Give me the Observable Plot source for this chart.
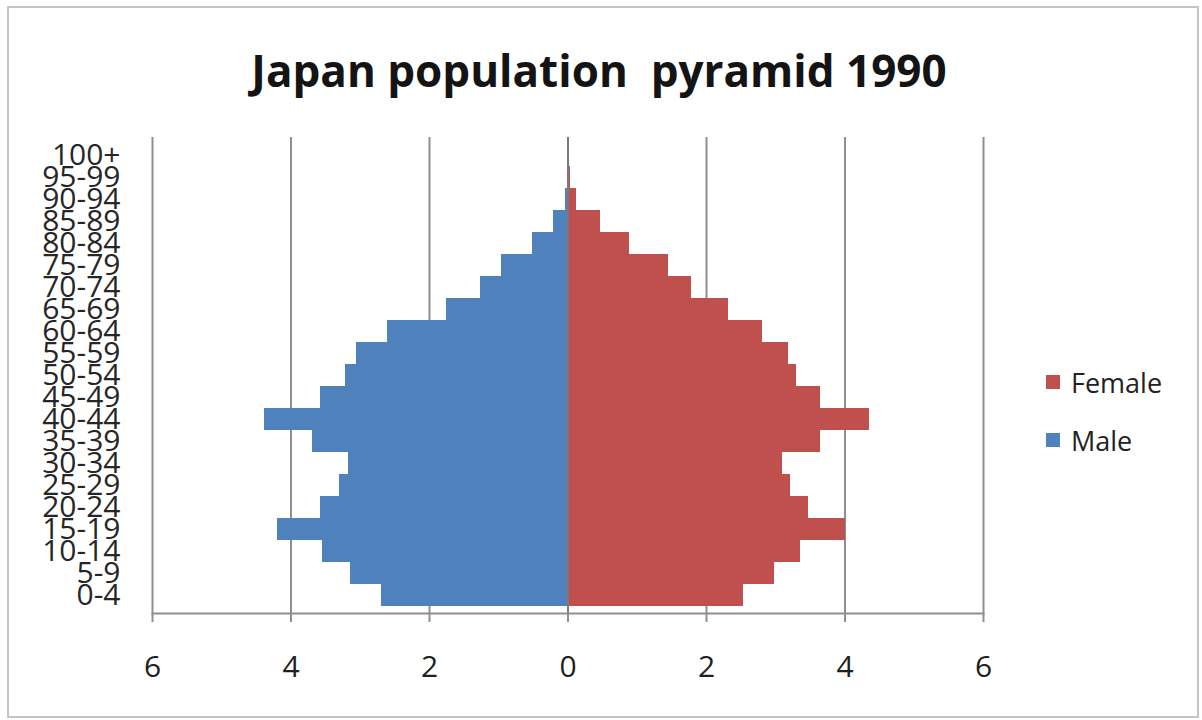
<!DOCTYPE html>
<html>
<head>
<meta charset="utf-8">
<script src="https://cdn.jsdelivr.net/npm/d3@7"></script>
<script src="https://cdn.jsdelivr.net/npm/@observablehq/plot@0.6"></script>
<style>
  html, body { margin: 0; padding: 0; background: #fff; }
  #wrap { position: relative; width: 1202px; height: 720px; overflow: hidden; font-family: "Open Sans", sans-serif; }
  #border { position: absolute; left: 7px; top: 6px; width: 1188px; height: 708px; border: 2px solid #c4c4c4; }
  #title { position: absolute; left: 0; width: 1198px; top: 44px; text-align: center; font-size: 44px; font-weight: 700; color: #141414; line-height: 1.2; white-space: pre; }
  #chart { position: absolute; left: 0; top: 120px; }
  #legend { position: absolute; left: 1046px; top: 362px; }
  .item { display: flex; align-items: center; height: 40px; margin-bottom: 18px; font-size: 27px; font-weight: 500; color: #222; }
  .sw { width: 14px; height: 14px; margin-right: 11px; }
</style>
</head>
<body>
<div id="wrap">
  <div id="border"></div>
  <div id="title">Japan population  pyramid 1990</div>
  <div id="chart"></div>
  <div id="legend"></div>
</div>
<script>
const ages = ["0-4","5-9","10-14","15-19","20-24","25-29","30-34","35-39","40-44","45-49","50-54","55-59","60-64","65-69","70-74","75-79","80-84","85-89","90-94","95-99","100+"];
const male   = [2.70,3.14,3.55,4.19,3.58,3.30,3.17,3.69,4.38,3.58,3.22,3.06,2.61,1.76,1.26,0.96,0.51,0.21,0.03,0.01,0];
const female = [2.54,2.98,3.36,4.01,3.48,3.22,3.10,3.65,4.35,3.65,3.30,3.19,2.81,2.32,1.79,1.45,0.89,0.47,0.12,0.03,0];
const xTicks = [-6,-4,-2,0,2,4,6];
const seriesNames = ["Female","Male"];
const seriesColors = ["#C0504D","#4F81BD"];

const rows = [];
ages.forEach((a,i) => {
  rows.push({age: a, sex: "Male", value: -male[i]});
  rows.push({age: a, sex: "Female", value: female[i]});
});

const plot = Plot.plot({
  width: 1013,
  height: 573,
  marginLeft: 152,
  marginRight: 30,
  marginTop: 17,
  marginBottom: 80,
  style: {fontFamily: "Open Sans", fontSize: "30px", fontWeight: 500, color: "#1f1f1f", background: "transparent", overflow: "visible"},
  x: {domain: [-6, 6]},
  y: {domain: ages.slice().reverse(), padding: 0},
  color: {domain: seriesNames, range: seriesColors},
  marks: [
    Plot.gridX({ticks: xTicks, stroke: "#8f8f8f", strokeOpacity: 1, strokeWidth: 2}),
    Plot.barX(rows, {x: "value", y: "age", fill: "sex", shapeRendering: "crispEdges"}),
    Plot.ruleX([0], {stroke: "#7a7a7a", strokeWidth: 2}),
    Plot.frame({anchor: "bottom", stroke: "#8f8f8f", strokeWidth: 2}),
    Plot.axisX({ticks: xTicks, tickFormat: d => Math.abs(d), tickSize: 9, tickPadding: 33, stroke: "#8f8f8f", strokeWidth: 2, fill: "#1f1f1f", label: null}),
    Plot.axisY({tickSize: 0, tickPadding: 32, fill: "#262626", label: null})
  ]
});
document.getElementById("chart").appendChild(plot);

const legend = document.getElementById("legend");
seriesNames.forEach((n, i) => {
  const it = document.createElement("div");
  it.className = "item";
  const sw = document.createElement("span");
  sw.className = "sw";
  sw.style.background = seriesColors[i];
  const t = document.createElement("span");
  t.textContent = n;
  it.appendChild(sw); it.appendChild(t);
  legend.appendChild(it);
});
</script>
</body>
</html>
